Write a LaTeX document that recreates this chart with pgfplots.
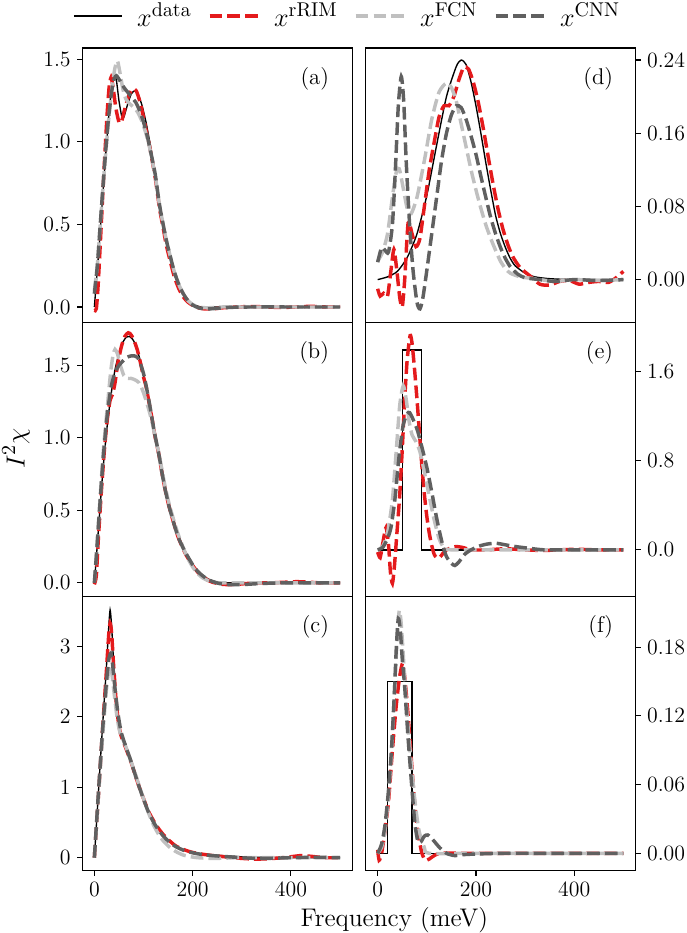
\documentclass[border=0pt]{standalone}
\usepackage{pgfplots}
\pgfplotsset{compat=1.18}
\usepgfplotslibrary{groupplots}
\usetikzlibrary{calc}
\definecolor{cred}{RGB}{228,26,28}
\definecolor{clight}{RGB}{192,192,192}
\definecolor{cdark}{RGB}{96,96,96}
\pgfplotsset{
  dat/.style={black, line width=0.75pt, smooth, tension=0.4},
  datbox/.style={black, line width=0.75pt},
  rim/.style={cred, line width=1.9pt, dash pattern=on 7pt off 2.8pt, smooth, tension=0.4},
  fcn/.style={clight, line width=1.9pt, dash pattern=on 7pt off 2.8pt, smooth, tension=0.4},
  cnn/.style={cdark, line width=1.9pt, dash pattern=on 7pt off 2.8pt, smooth, tension=0.4},
}
\tikzset{plab/.style={font=\fontsize{12.5}{14}\selectfont, anchor=north east, inner sep=0pt}}
\begin{document}
\begin{tikzpicture}
\begin{groupplot}[
  group style={group name=G, group size=2 by 3, horizontal sep=7.15pt, vertical sep=0pt},
  width=148.5pt, height=150.7pt, scale only axis,
  xmin=-25, xmax=525, xtick={0,200,400},
  tick align=outside, major tick length=2.75pt,
  axis line style={line width=0.6pt},
  every tick/.append style={line width=0.6pt, black},
  tick label style={font=\fontsize{12}{14}\selectfont},
  legend image code/.code={\draw[#1] (0pt,0pt) -- (26.5pt,0pt);},
]
% (a)
\nextgroupplot[ymin=-0.093, ymax=1.568, ytick={0,0.5,1,1.5}, ytick pos=left, xmajorticks=false,
  yticklabel style={/pgf/number format/.cd, fixed, fixed zerofill, precision=1},
  legend style={at={(0.985,1.117)}, anchor=center, draw=none, fill=none,
    font=\fontsize{15}{17}\selectfont, legend columns=4,
    /tikz/every odd column/.append style={column sep=6pt},
    /tikz/every even column/.append style={column sep=7pt}}]
\addplot[dat] coordinates {(0,0)(10,0.38)(20,0.8)(30,1.18)(37,1.37)(41,1.41)(45,1.37)(50,1.25)(56,1.15)(60,1.15)(67,1.22)(75,1.29)(83,1.31)(90,1.28)(97,1.22)(105,1.12)(112,1.01)(118,0.91)(124,0.81)(133,0.61)(140,0.5)(146,0.40)(155,0.29)(163,0.20)(172,0.13)(180,0.08)(190,0.04)(197,0.02)(210,0.005)(225,0)(300,0)(400,0)(500,0)};
\addlegendentry{$x^{\mathrm{data}}$}
\addplot[rim] coordinates {(0,-0.02)(4,-0.01)(8,0.15)(14,0.5)(20,0.85)(26,1.17)(30,1.33)(34,1.39)(38,1.33)(44,1.2)(50,1.12)(55,1.12)(62,1.2)(70,1.28)(78,1.32)(85,1.31)(92,1.25)(100,1.15)(106,1.06)(112,0.98)(118,0.88)(124,0.78)(133,0.59)(140,0.48)(146,0.38)(155,0.27)(163,0.18)(172,0.11)(180,0.065)(190,0.03)(200,0.01)(212,-0.005)(225,-0.012)(245,-0.01)(265,-0.004)(290,0.0)(320,0.003)(350,0.0)(380,-0.003)(410,0.0)(440,0.004)(470,0.0)(500,0.002)};
\addlegendentry{$x^{\mathrm{rRIM}}$}
\addplot[fcn] coordinates {(0,0.1)(6,0.25)(12,0.5)(20,0.82)(28,1.1)(36,1.33)(42,1.45)(47,1.49)(52,1.42)(58,1.32)(64,1.26)(72,1.23)(80,1.21)(88,1.18)(96,1.13)(104,1.06)(112,0.97)(124,0.79)(133,0.61)(146,0.41)(155,0.3)(163,0.21)(172,0.135)(180,0.085)(190,0.04)(200,0.015)(212,0.0)(230,-0.005)(260,0.0)(300,0.0)(400,0.0)(500,0)};
\addlegendentry{$x^{\mathrm{FCN}}$}
\addplot[cnn] coordinates {(0,0.08)(6,0.25)(12,0.5)(20,0.83)(28,1.12)(35,1.3)(40,1.38)(45,1.4)(52,1.37)(60,1.33)(68,1.3)(76,1.27)(84,1.24)(92,1.19)(100,1.12)(108,1.03)(116,0.92)(124,0.8)(133,0.61)(146,0.41)(155,0.3)(163,0.21)(172,0.135)(180,0.085)(190,0.04)(200,0.012)(212,-0.005)(230,-0.012)(250,-0.008)(280,-0.002)(320,0.0)(400,0.0)(500,0)};
\addlegendentry{$x^{\mathrm{CNN}}$}
\node[plab] at (rel axis cs:0.915,0.931) {(a)};
% (d)
\nextgroupplot[ymin=-0.0467, ymax=0.2531, ytick={0,0.08,0.16,0.24}, ytick pos=right, yticklabel pos=right, xmajorticks=false,
  yticklabel style={/pgf/number format/.cd, fixed, fixed zerofill, precision=2}]
\addplot[dat] coordinates {(0,0)(20,0.003)(40,0.009)(60,0.024)(80,0.05)(100,0.092)(120,0.147)(140,0.200)(160,0.233)(170,0.240)(180,0.235)(190,0.216)(200,0.19)(210,0.16)(220,0.128)(230,0.098)(240,0.07)(250,0.05)(260,0.035)(270,0.023)(280,0.015)(300,0.007)(320,0.003)(350,0.001)(400,0)(500,0)};
\addplot[rim] coordinates {(0,-0.01)(5,-0.018)(12,-0.015)(20,-0.018)(27,0.01)(33,0.033)(39,0.01)(45,-0.02)(50,-0.03)(55,0.0)(62,0.062)(70,0.05)(78,0.036)(86,0.045)(95,0.08)(105,0.12)(115,0.15)(125,0.178)(135,0.19)(145,0.19)(155,0.2)(165,0.218)(175,0.232)(185,0.23)(195,0.215)(205,0.193)(215,0.165)(225,0.134)(235,0.104)(245,0.077)(255,0.055)(265,0.038)(275,0.025)(290,0.013)(310,0.004)(330,-0.005)(350,-0.006)(370,-0.002)(390,-0.001)(410,-0.005)(430,-0.003)(450,-0.002)(470,-0.003)(485,0.002)(500,0.009)};
\addplot[fcn] coordinates {(0,0.02)(10,0.03)(20,0.05)(30,0.09)(38,0.118)(44,0.121)(52,0.10)(60,0.078)(68,0.072)(80,0.09)(95,0.13)(110,0.175)(125,0.205)(140,0.215)(150,0.21)(160,0.195)(170,0.17)(180,0.145)(190,0.12)(200,0.098)(210,0.078)(220,0.06)(230,0.045)(240,0.032)(250,0.02)(260,0.012)(270,0.007)(290,0.003)(320,0.001)(360,-0.002)(400,0)(450,-0.001)(500,0)};
\addplot[cnn] coordinates {(0,0.019)(8,0.035)(15,0.032)(22,0.03)(30,0.06)(36,0.12)(42,0.19)(48,0.222)(53,0.195)(58,0.13)(65,0.06)(72,0.01)(80,-0.025)(86,-0.032)(92,-0.02)(100,0.01)(110,0.05)(120,0.09)(130,0.13)(140,0.16)(150,0.18)(160,0.19)(170,0.188)(180,0.175)(190,0.157)(200,0.137)(210,0.113)(220,0.09)(230,0.068)(240,0.05)(250,0.035)(260,0.023)(270,0.014)(285,0.006)(300,0.002)(330,0.0)(360,-0.002)(400,0.0)(450,-0.001)(500,0.0)};
\node[plab] at (rel axis cs:0.918,0.931) {(d)};
% (b)
\nextgroupplot[ymin=-0.095, ymax=1.797, ytick={0,0.5,1,1.5}, ytick pos=left, xmajorticks=false,
  yticklabel style={/pgf/number format/.cd, fixed, fixed zerofill, precision=1}]
\addplot[dat] coordinates {(0,0)(5,0.22)(10,0.45)(18,0.8)(26,1.08)(34,1.3)(42,1.47)(50,1.58)(58,1.66)(65,1.695)(71,1.70)(78,1.68)(85,1.63)(92,1.55)(99,1.45)(105.5,1.35)(112,1.23)(118,1.12)(124,1.0)(131,0.89)(137,0.77)(143,0.66)(151,0.54)(160,0.43)(170,0.32)(180,0.245)(187,0.2)(200,0.125)(210,0.085)(218,0.06)(230,0.03)(240,0.015)(250,0.005)(265,0)(300,0)(500,0)};
\addplot[rim] coordinates {(0,-0.01)(4,0.05)(8,0.3)(14,0.62)(20,0.9)(26,1.12)(32,1.26)(37,1.3)(42,1.38)(48,1.52)(55,1.63)(62,1.7)(69,1.725)(75,1.71)(82,1.66)(88,1.6)(95,1.5)(100,1.42)(105.5,1.35)(112,1.23)(118,1.12)(124,1.0)(131,0.89)(137,0.77)(143,0.66)(151,0.54)(160,0.43)(170,0.32)(180,0.24)(187,0.19)(200,0.12)(210,0.075)(218,0.05)(230,0.02)(240,0.005)(255,-0.008)(270,-0.012)(290,-0.01)(320,-0.002)(350,0.0)(380,0.003)(410,0.008)(430,0.006)(460,0.0)(500,0.0)};
\addplot[fcn] coordinates {(0,0)(5,0.25)(10,0.5)(18,0.9)(26,1.2)(33,1.45)(38,1.57)(42,1.61)(47,1.58)(53,1.5)(60,1.43)(67,1.41)(75,1.41)(83,1.4)(91,1.38)(98,1.33)(105,1.26)(112,1.18)(118,1.1)(124,1.0)(131,0.9)(137,0.79)(143,0.68)(151,0.56)(160,0.45)(170,0.34)(180,0.25)(190,0.17)(200,0.11)(210,0.065)(220,0.035)(232,0.015)(245,0.003)(260,0)(300,0)(500,0)};
\addplot[cnn] coordinates {(0,0)(5,0.23)(10,0.48)(18,0.86)(26,1.15)(34,1.35)(42,1.45)(50,1.5)(58,1.53)(66,1.555)(74,1.565)(82,1.565)(88,1.555)(95,1.5)(101,1.43)(107,1.33)(113,1.22)(119,1.1)(125,0.99)(131,0.89)(137,0.77)(143,0.66)(151,0.54)(160,0.43)(170,0.32)(180,0.245)(187,0.2)(200,0.125)(210,0.08)(218,0.055)(230,0.025)(240,0.01)(255,-0.005)(275,-0.012)(300,-0.012)(330,-0.006)(360,-0.002)(400,0)(500,0)};
\node[plab] at (rel axis cs:0.915,0.931) {(b)};
% (e)
\nextgroupplot[ymin=-0.419, ymax=2.039, ytick={0,0.8,1.6}, ytick pos=right, yticklabel pos=right, xmajorticks=false,
  yticklabel style={/pgf/number format/.cd, fixed, fixed zerofill, precision=1}]
\addplot[datbox] coordinates {(0,0)(50,0)(50,1.79)(89,1.79)(89,0)(500,0)};
\addplot[rim] coordinates {(0,-0.02)(5,-0.07)(10,0.05)(17,0.2)(22,0.05)(26,-0.2)(30,-0.3)(34,-0.15)(40,0.2)(45,0.5)(50,0.9)(55,1.35)(60,1.7)(66,1.92)(70,1.85)(75,1.62)(80,1.35)(85,1.05)(90,0.75)(95,0.5)(100,0.3)(105,0.15)(110,0.04)(115,-0.04)(120,-0.07)(126,-0.07)(133,-0.03)(140,0.0)(150,0.02)(160,0.03)(175,0.02)(190,0.0)(220,0.0)(260,0.01)(300,0.0)(340,-0.005)(400,0.005)(450,0)(500,0)};
\addplot[fcn] coordinates {(0,0)(10,0.03)(20,0.15)(30,0.45)(38,0.9)(45,1.3)(52,1.47)(58,1.35)(64,1.15)(70,1.03)(78,0.97)(86,0.88)(95,0.7)(105,0.48)(115,0.27)(125,0.1)(135,0.02)(150,0.0)(200,0.0)(300,0)(400,0)(500,0)};
\addplot[cnn] coordinates {(0,0)(10,0.02)(20,0.1)(27,0.2)(35,0.45)(44,0.86)(52,1.12)(60,1.22)(65,1.23)(72,1.17)(81,1.07)(90,0.92)(100,0.74)(110,0.52)(118,0.33)(125,0.18)(132,0.05)(140,-0.06)(150,-0.12)(157,-0.14)(165,-0.11)(177,-0.04)(190,0.0)(204,0.03)(220,0.05)(240,0.06)(260,0.045)(280,0.03)(307,0.015)(340,0.0)(400,0)(500,0)};
\node[plab] at (rel axis cs:0.918,0.931) {(e)};
% (c)
\nextgroupplot[ymin=-0.188, ymax=3.709, ytick={0,1,2,3}, ytick pos=left, xtick pos=bottom]
\addplot[dat] coordinates {(0,0)(8,0.9)(16,1.8)(24,2.65)(29,3.25)(32,3.52)(35,3.3)(39,2.8)(44,2.3)(49,1.95)(54,1.76)(60,1.65)(67,1.52)(75,1.36)(82,1.2)(90,1.03)(100,0.83)(110,0.65)(120,0.52)(129,0.42)(140,0.32)(153,0.23)(165,0.17)(180,0.12)(197,0.085)(215,0.06)(240,0.04)(270,0.025)(300,0.013)(340,0.005)(380,0)(500,0)};
\addplot[rim] coordinates {(0,0)(8,0.85)(16,1.75)(24,2.6)(29,3.15)(32,3.33)(35,3.2)(39,2.75)(44,2.25)(49,1.92)(54,1.74)(60,1.63)(67,1.5)(75,1.35)(82,1.2)(90,1.03)(100,0.84)(110,0.66)(120,0.53)(129,0.43)(140,0.33)(153,0.24)(165,0.17)(180,0.12)(197,0.08)(215,0.055)(240,0.03)(270,0.01)(300,-0.01)(330,-0.02)(360,-0.012)(390,0.005)(420,0.03)(440,0.02)(470,0.0)(500,0.0)};
\addplot[fcn] coordinates {(0,0)(8,0.85)(16,1.65)(24,2.35)(29,2.65)(32,2.73)(35,2.65)(40,2.35)(46,2.0)(52,1.78)(58,1.68)(65,1.56)(72,1.42)(80,1.26)(90,1.05)(100,0.84)(110,0.64)(120,0.47)(130,0.34)(140,0.24)(153,0.15)(165,0.09)(180,0.04)(195,0.015)(210,0.0)(240,-0.01)(270,-0.005)(300,0)(500,0)};
\addplot[cnn] coordinates {(0,0)(8,0.9)(16,1.75)(24,2.45)(29,2.8)(33,2.9)(37,2.75)(42,2.4)(48,2.05)(54,1.8)(60,1.66)(67,1.52)(75,1.36)(82,1.2)(90,1.03)(100,0.83)(110,0.65)(120,0.51)(129,0.41)(140,0.31)(153,0.22)(165,0.16)(180,0.11)(197,0.075)(215,0.05)(240,0.03)(270,0.015)(300,0.0)(330,-0.01)(360,-0.008)(400,0.0)(450,0.005)(500,0.0)};
\node[plab] at (rel axis cs:0.915,0.931) {(c)};
% (f)
\nextgroupplot[ymin=-0.0154, ymax=0.2241, ytick={0,0.06,0.12,0.18}, ytick pos=right, yticklabel pos=right, xtick pos=bottom,
  yticklabel style={/pgf/number format/.cd, fixed, fixed zerofill, precision=2}]
\addplot[datbox] coordinates {(0,0)(20,0)(20,0.15)(70,0.15)(70,0)(500,0)};
\addplot[rim] coordinates {(0,0.003)(3,-0.006)(8,0.0)(15,0.02)(22,0.045)(30,0.09)(38,0.13)(45,0.155)(51,0.166)(56,0.15)(62,0.12)(68,0.085)(75,0.045)(82,0.018)(90,0.0)(97,-0.006)(105,-0.005)(115,-0.002)(130,0.0)(200,0)(300,0)(400,0)(500,0)};
\addplot[fcn] coordinates {(0,0.0)(8,0.005)(15,0.02)(22,0.05)(28,0.088)(34,0.14)(40,0.19)(44,0.212)(48,0.2)(54,0.16)(60,0.12)(68,0.08)(76,0.045)(84,0.02)(95,0.005)(105,0.0)(200,0)(300,0)(400,0)(500,0)};
\addplot[cnn] coordinates {(0,0.0)(8,0.008)(15,0.025)(22,0.055)(28,0.09)(34,0.14)(38,0.18)(42,0.205)(46,0.195)(50,0.17)(55,0.145)(62,0.1)(70,0.055)(76,0.025)(82,0.01)(88,0.01)(95,0.015)(102,0.016)(112,0.012)(126,0.005)(140,0.0)(157,-0.002)(180,-0.001)(250,0.0)(350,0)(500,0.0)};
\node[plab] at (rel axis cs:0.918,0.931) {(f)};
\end{groupplot}
\node[rotate=90, inner sep=0pt, font=\fontsize{15}{17}\selectfont] at ([xshift=-36.3pt,yshift=6pt]G c1r2.west) {$I^2\chi$};
\node[anchor=base, font=\fontsize{14}{16}\selectfont] at ([xshift=15.95pt,yshift=-30.25pt]G c2r3.south west) {Frequency (meV)};
\pgfresetboundingbox
\useasboundingbox ([xshift=-45.1pt,yshift=26.4pt]G c1r1.north west) rectangle ([xshift=28.05pt,yshift=-34.1pt]G c2r3.south east);
\end{tikzpicture}
\end{document}
